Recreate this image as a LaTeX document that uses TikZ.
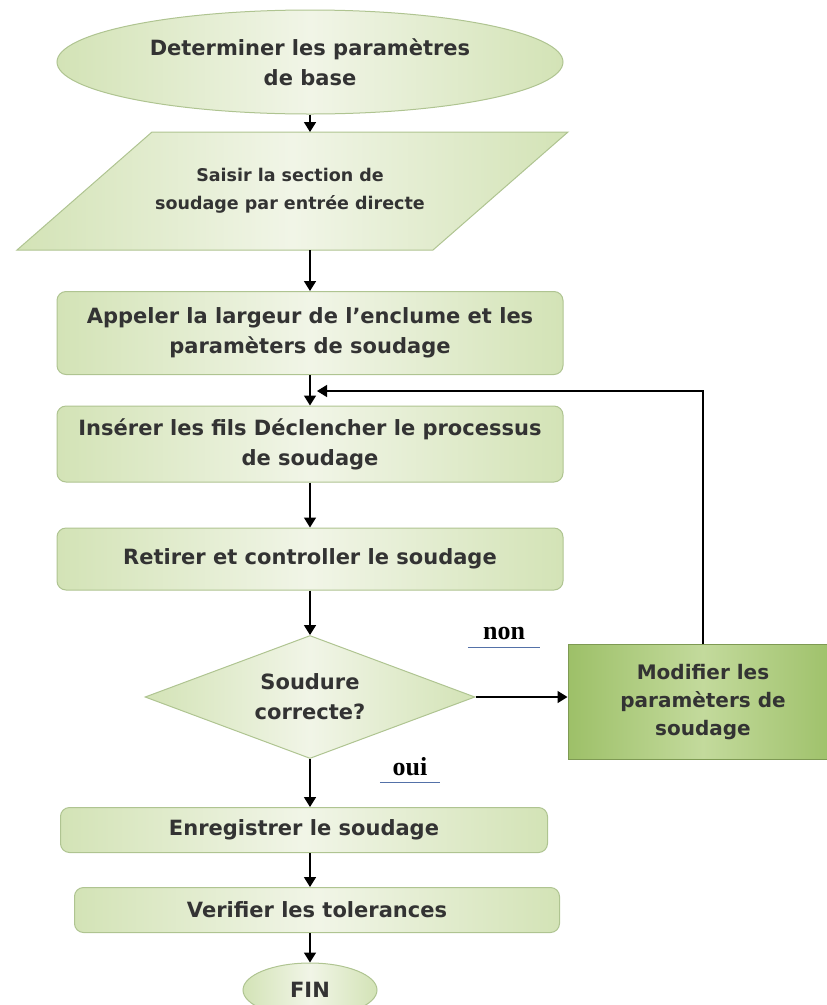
\documentclass[tikz,border=0pt]{standalone}
\usepackage{fontspec}
\newfontfamily\boitefont{DejaVu Sans}
\newfontfamily\etiqfont{Liberation Serif}
\usetikzlibrary{shapes.geometric,arrows.meta}

\definecolor{vertpale}{HTML}{F1F5E7}
\definecolor{vertclair}{HTML}{D3E3B6}
\definecolor{vertfonce}{HTML}{9DC068}
\definecolor{vertmoyen}{HTML}{C3DA9C}
\definecolor{bordvert}{HTML}{AFC491}
\definecolor{texte}{HTML}{333333}
\definecolor{bleusoul}{HTML}{5471A8}

\tikzset{
  boite/.style={draw=bordvert, line width=1pt, left color=vertclair, right color=vertclair,
    middle color=vertpale, font=\boitefont\bfseries\fontsize{21}{30}\selectfont,
    text=texte, align=center, inner sep=0pt},
  etape/.style={boite, rectangle, rounded corners=9pt},
  ovale/.style={boite, ellipse},
  decision/.style={boite, diamond, aspect=2.68},
  etiq/.style={font=\etiqfont\bfseries\fontsize{26}{28}\selectfont, text=black, inner sep=0pt},
  soulign/.style={draw=bleusoul, line width=1.2pt},
  fleche/.style={->, line width=1.6pt},
  retour/.style={->, line width=1.3pt}
}

\begin{document}
\begin{tikzpicture}[x=1pt,y=-1pt,>={Triangle[length=10pt,width=12pt]}]
\useasboundingbox (0,0) rectangle (827,1005);

%NODES
\node[ovale, minimum width=506pt, minimum height=104pt] (debut) at (310,62)
  {Determiner les paramètres\\de base};

% input box
\draw[boite] (152,132) -- (568,132) -- (433,250) -- (17,250) -- cycle;
\coordinate (saisieN) at (310,132);
\coordinate (saisieS) at (310,250);
\node[font=\boitefont\bfseries\fontsize{17.5}{28}\selectfont, text=texte, align=center] (saisie) at (290,191)
  {Saisir la section de\\soudage par entrée directe};

\node[etape, minimum width=506pt, minimum height=83pt] (appeler) at (310,333)
  {Appeler la largeur de l’enclume et les\\paramèters de soudage};
\node[etape, minimum width=506pt, minimum height=76pt] (inserer) at (310,444)
  {Insérer les fils Déclencher le processus\\de soudage};
\node[etape, minimum width=506pt, minimum height=62pt] (retirer) at (310,559)
  {Retirer et controller le soudage};
\node[decision, minimum width=330pt, minimum height=123pt] (soudure) at (310,697)
  {Soudure\\correcte?};
\node[boite, rectangle, left color=vertfonce, right color=vertfonce, middle color=vertmoyen,
  draw=vertfonce!80!black, font=\boitefont\bfseries\fontsize{20}{28}\selectfont,
  minimum width=270pt, minimum height=115pt] (modifier) at (703,702)
  {Modifier les\\paramèters de\\soudage};
\node[etape, minimum width=487pt, minimum height=45pt] (enregistrer) at (304,830)
  {Enregistrer le soudage};
\node[etape, minimum width=485pt, minimum height=45pt] (verifier) at (317,910)
  {Verifier les tolerances};
\node[ovale, minimum width=134pt, minimum height=54pt] (fin) at (310,990) {FIN};

%LABELS
\node[etiq, minimum width=72pt, minimum height=28pt] (non) at (504,633) {non};
\draw[soulign] (non.south west) -- (non.south east);
\node[etiq, minimum width=60pt, minimum height=30pt] (oui) at (410,767) {oui};
\draw[soulign] (oui.south west) -- (oui.south east);

%ARROWS
\draw[fleche] (debut.south) -- (saisieN);
\draw[fleche] (saisieS) -- (appeler.north);
\draw[fleche] (appeler.south) -- (inserer.north);
\draw[fleche] (inserer.south) -- (retirer.north);
\draw[fleche] (retirer.south) -- (soudure.north);
\draw[fleche] (soudure.east) -- (soudure.east -| modifier.west);
\draw[fleche] (soudure.south) -- (soudure.south |- enregistrer.north);
\draw[fleche] (enregistrer.south -| fin) -- (verifier.north -| fin);
\draw[fleche] (verifier.south -| fin) -- (fin.north);

% loop back
\coordinate (boucle) at (317,391);
\draw[retour] (modifier.north) |- (boucle);

\end{tikzpicture}
\end{document}
